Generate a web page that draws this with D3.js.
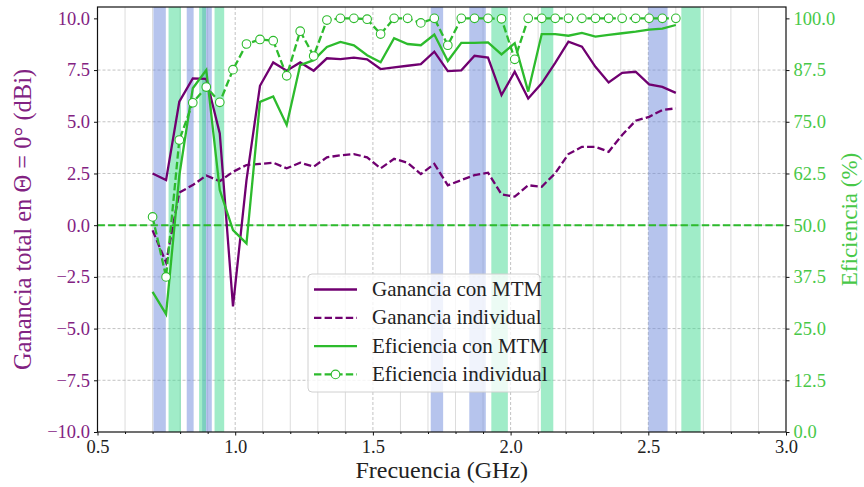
<!DOCTYPE html>
<html>
<head>
<meta charset="utf-8">
<script src="https://cdn.jsdelivr.net/npm/d3@7"></script>
<style>
  html, body { margin: 0; padding: 0; background: #fff; }
  svg { display: block; }
  text { font-family: "Liberation Serif", "Times New Roman", serif; }
</style>
</head>
<body>
<svg id="chart" width="864" height="487"></svg>
<script>
// ---------------- DATA ----------------
const freqs = [0.700, 0.749, 0.797, 0.846, 0.895, 0.944, 0.992, 1.041, 1.090, 1.138,
               1.187, 1.236, 1.285, 1.333, 1.382, 1.431, 1.479, 1.528, 1.577, 1.626,
               1.674, 1.723, 1.772, 1.821, 1.869, 1.918, 1.967, 2.015, 2.064, 2.113,
               2.162, 2.210, 2.259, 2.308, 2.356, 2.405, 2.454, 2.503, 2.551, 2.600];

const gainMTM = [2.50, 2.18, 5.97, 7.10, 7.07, 4.44, -3.93, 2.18, 6.74, 7.87,
                 7.47, 7.87, 7.47, 8.07, 8.03, 8.10, 8.02, 7.55, 7.63, 7.71,
                 7.79, 8.39, 7.45, 7.49, 8.19, 8.10, 6.29, 7.42, 6.13, 6.86,
                 7.85, 8.87, 8.63, 7.66, 6.90, 7.37, 7.42, 6.81, 6.69, 6.40];

const gainInd = [-0.25, -1.80, 1.58, 1.94, 2.40, 2.13, 2.58, 2.91, 2.96, 3.02,
                 2.75, 3.02, 2.83, 3.28, 3.38, 3.44, 3.28, 2.75, 3.21, 3.02,
                 2.47, 2.96, 1.93, 2.18, 2.42, 2.54, 1.49, 1.38, 1.93, 1.86,
                 2.51, 3.44, 3.79, 3.79, 3.55, 4.36, 5.05, 5.24, 5.57, 5.65];

const effMTM = [33.9, 28.5, 62.0, 83.1, 87.5, 58.5, 48.8, 45.6, 79.8, 81.1,
                74.2, 88.7, 89.9, 93.1, 94.3, 93.5, 91.1, 89.4, 95.2, 93.8,
                93.5, 96.1, 89.7, 94.1, 94.1, 94.2, 91.3, 94.0, 82.3, 96.2,
                96.2, 95.8, 96.5, 95.6, 96.0, 96.4, 96.8, 97.3, 97.5, 98.4];

const effInd = [52.0, 37.5, 70.6, 79.6, 83.4, 79.7, 87.6, 93.8, 94.9, 94.6,
                86.1, 96.9, 90.9, 99.6, 100.0, 100.0, 99.8, 96.2, 100.0, 100.0,
                98.9, 100.0, 93.5, 100.0, 100.0, 100.0, 99.9, 90.1, 100.0, 100.0,
                100.0, 100.0, 100.0, 100.0, 100.0, 100.0, 100.0, 100.0, 100.0, 100.0];

// LTE bands (GHz): uplink (blue) and downlink (green)
const bandsUL = [[0.703, 0.748], [0.824, 0.849], [0.880, 0.915], [1.710, 1.755], [1.850, 1.910], [2.500, 2.570]];
const bandsDL = [[0.758, 0.803], [0.869, 0.894], [0.925, 0.960], [1.930, 1.990], [2.110, 2.155], [2.620, 2.690]];

const xMajorTicks = [0.5, 1.0, 1.5, 2.0, 2.5, 3.0];
const xMinorTicks = [0.6, 0.7, 0.8, 0.9, 1.1, 1.2, 1.3, 1.4, 1.6, 1.7, 1.8, 1.9, 2.1, 2.2, 2.3, 2.4, 2.6, 2.7, 2.8, 2.9];
const gainTicks = [-10, -7.5, -5, -2.5, 0, 2.5, 5, 7.5, 10];
const effTicks = [0, 12.5, 25, 37.5, 50, 62.5, 75, 87.5, 100];
const effReference = 50;

const labels = {
  x: "Frecuencia (GHz)",
  yLeft: "Ganancia total en Θ = 0° (dBi)",
  yRight: "Eficiencia (%)"
};
const legendNames = ["Ganancia con MTM", "Ganancia individual", "Eficiencia con MTM", "Eficiencia individual"];

// ---------------- STYLE ----------------
const PURPLE = "#700070";
const PURPLE_TXT = "#822282";
const GREEN = "#2dbb2d";
const GREEN_TXT = "#48c848";
const BLUE_BAND = "#6d8adb";
const GREEN_BAND = "#41d991";
const DASH = "7.4,3.2";

const L = 97.5, R = 786, T = 7, B = 432;

const svg = d3.select("#chart");
const x = d3.scaleLinear().domain([0.5, 3.0]).range([L, R]);
const yL = d3.scaleLinear().domain([-10, 10.55]).range([B, T]);
const yR = d3.scaleLinear().domain([0, 102.75]).range([B, T]);

const defs = svg.append("defs");
defs.append("clipPath").attr("id", "clip").append("rect")
  .attr("x", L).attr("y", T).attr("width", R - L).attr("height", B - T);

// grid
const grid = svg.append("g");
grid.selectAll(".vminor").data(xMinorTicks).join("line")
  .attr("x1", d => x(d)).attr("x2", d => x(d)).attr("y1", T).attr("y2", B)
  .attr("stroke", "#dcdcdc").attr("stroke-width", 1);
grid.selectAll(".vmajor").data(xMajorTicks.slice(1, -1)).join("line")
  .attr("x1", d => x(d)).attr("x2", d => x(d)).attr("y1", T).attr("y2", B)
  .attr("stroke", "#b4b4b4").attr("stroke-width", 0.8).attr("stroke-dasharray", "3,2");
grid.selectAll(".hmajor").data(gainTicks.slice(1, -1)).join("line")
  .attr("x1", L).attr("x2", R).attr("y1", d => yL(d)).attr("y2", d => yL(d))
  .attr("stroke", "#b4b4b4").attr("stroke-width", 0.8).attr("stroke-dasharray", "3,2");

// bands
const bands = svg.append("g");
bands.selectAll(".ul").data(bandsUL).join("rect")
  .attr("x", d => x(d[0])).attr("width", d => x(d[1]) - x(d[0]))
  .attr("y", T).attr("height", B - T)
  .attr("fill", BLUE_BAND).attr("fill-opacity", 0.5);
bands.selectAll(".dl").data(bandsDL).join("rect")
  .attr("x", d => x(d[0])).attr("width", d => x(d[1]) - x(d[0]))
  .attr("y", T).attr("height", B - T)
  .attr("fill", GREEN_BAND).attr("fill-opacity", 0.5);

// plot lines
const plot = svg.append("g").attr("clip-path", "url(#clip)");

plot.append("line")
  .attr("x1", L).attr("x2", R).attr("y1", yR(effReference)).attr("y2", yR(effReference))
  .attr("stroke", GREEN).attr("stroke-width", 2).attr("stroke-dasharray", DASH);

const lineL = arr => d3.line().x((d, i) => x(freqs[i])).y(d => yL(d))(arr);
const lineR = arr => d3.line().x((d, i) => x(freqs[i])).y(d => yR(d))(arr);

plot.append("path").attr("d", lineL(gainMTM))
  .attr("fill", "none").attr("stroke", PURPLE).attr("stroke-width", 2.3);
plot.append("path").attr("d", lineL(gainInd))
  .attr("fill", "none").attr("stroke", PURPLE).attr("stroke-width", 2.3).attr("stroke-dasharray", DASH);
plot.append("path").attr("d", lineR(effMTM))
  .attr("fill", "none").attr("stroke", GREEN).attr("stroke-width", 2.3);
plot.append("path").attr("d", lineR(effInd))
  .attr("fill", "none").attr("stroke", GREEN).attr("stroke-width", 2.3).attr("stroke-dasharray", DASH);
plot.selectAll(".mk").data(effInd).join("circle")
  .attr("cx", (d, i) => x(freqs[i])).attr("cy", d => yR(d)).attr("r", 4.3)
  .attr("fill", "#fff").attr("stroke", GREEN).attr("stroke-width", 1.1);

// spines
const sp = svg.append("g").attr("stroke", "#111").attr("stroke-width", 1.2).attr("fill", "none");
sp.append("rect").attr("x", L).attr("y", T).attr("width", R - L).attr("height", B - T);

// axes
const fmt = d3.format(".1f");
const axB = svg.append("g").attr("transform", `translate(0,${B})`)
  .call(d3.axisBottom(x).tickValues(xMajorTicks).tickFormat(fmt).tickSize(3.5).tickPadding(4));
const axBm = svg.append("g").attr("transform", `translate(0,${B})`)
  .call(d3.axisBottom(x).tickValues(xMinorTicks).tickFormat("").tickSize(2));
const axL = svg.append("g").attr("transform", `translate(${L},0)`)
  .call(d3.axisLeft(yL).tickValues(gainTicks).tickFormat(fmt).tickSize(3.5).tickPadding(4));
const axR = svg.append("g").attr("transform", `translate(${R},0)`)
  .call(d3.axisRight(yR).tickValues(effTicks).tickFormat(fmt).tickSize(3.5).tickPadding(4));

[axB, axBm, axL, axR].forEach(a => {
  a.select(".domain").remove();
  a.selectAll(".tick line").attr("stroke", "#111").attr("stroke-width", 1);
  a.selectAll("text").style("font-family", "'Liberation Serif', serif").style("font-size", "18.5px");
});
axB.selectAll("text").attr("fill", "#222");
axL.selectAll("text").attr("fill", PURPLE_TXT);
axR.selectAll("text").attr("fill", GREEN_TXT);

// axis labels
svg.append("text").attr("x", (L + R) / 2).attr("y", 478).attr("text-anchor", "middle")
  .style("font-size", "24px").attr("fill", "#222").text(labels.x);
svg.append("text").attr("transform", `translate(31,${(T + B) / 2}) rotate(-90)`)
  .attr("text-anchor", "middle").style("font-size", "24.5px").attr("fill", PURPLE_TXT).text(labels.yLeft);
svg.append("text").attr("transform", `translate(857,${(T + B) / 2}) rotate(-90)`)
  .attr("text-anchor", "middle").style("font-size", "23px").attr("fill", GREEN_TXT).text(labels.yRight);

// legend
const lg = svg.append("g");
lg.append("rect").attr("x", 308).attr("y", 274).attr("width", 232).attr("height", 118)
  .attr("rx", 4).attr("fill", "#fff").attr("fill-opacity", 0.8).attr("stroke", "#d0d0d0").attr("stroke-width", 1);
const legendStyles = [
  { color: PURPLE, dash: null, marker: false },
  { color: PURPLE, dash: DASH, marker: false },
  { color: GREEN, dash: null, marker: false },
  { color: GREEN, dash: DASH, marker: true }
];
legendNames.forEach((name, i) => {
  const yy = 289.5 + i * 28.3;
  const st = legendStyles[i];
  lg.append("line").attr("x1", 314).attr("x2", 357).attr("y1", yy).attr("y2", yy)
    .attr("stroke", st.color).attr("stroke-width", 2.3).attr("stroke-dasharray", st.dash);
  if (st.marker) {
    lg.append("circle").attr("cx", 335.5).attr("cy", yy).attr("r", 4.3)
      .attr("fill", "#fff").attr("stroke", st.color).attr("stroke-width", 1.1);
  }
  lg.append("text").attr("x", 372).attr("y", yy + 6.5).style("font-size", "21px")
    .attr("fill", "#222").text(name);
});
</script>
</body>
</html>
